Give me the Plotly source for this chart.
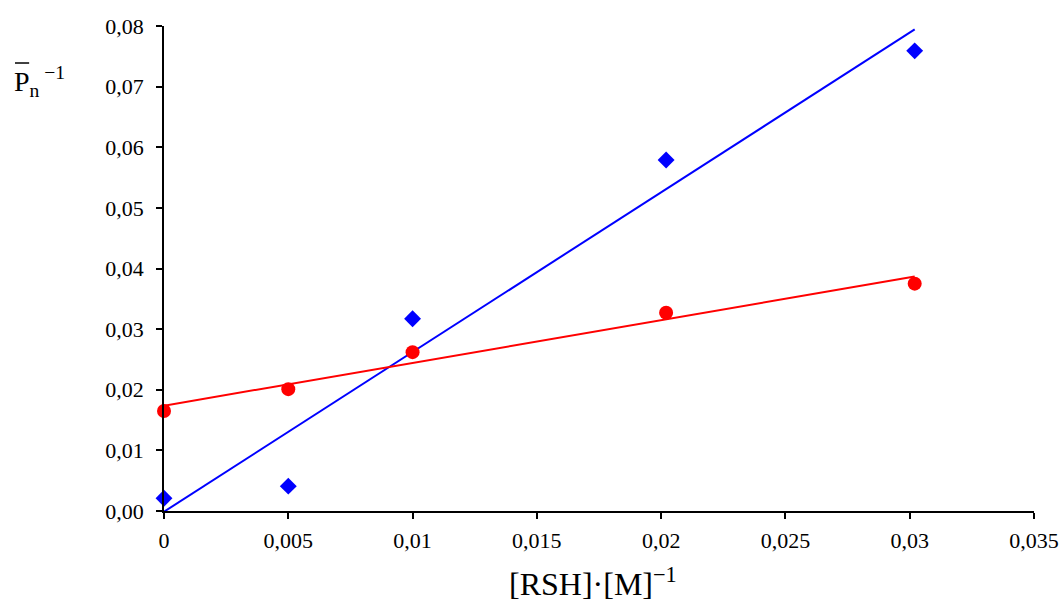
import numpy as np
import plotly.graph_objects as go

# Data
x_vals = [0.0, 0.005, 0.01, 0.0202, 0.0302]
blue_vals = [0.0021, 0.0041, 0.0317, 0.0579, 0.0759]
red_vals = [0.0165, 0.0201, 0.0262, 0.0327, 0.0375]

x_ticks = [0, 0.005, 0.01, 0.015, 0.02, 0.025, 0.03, 0.035]
x_ticktext = ["0", "0,005", "0,01", "0,015", "0,02", "0,025", "0,03", "0,035"]
y_ticks = [0, 0.01, 0.02, 0.03, 0.04, 0.05, 0.06, 0.07, 0.08]
y_ticktext = ["0,00", "0,01", "0,02", "0,03", "0,04", "0,05", "0,06", "0,07", "0,08"]

FONT = "Liberation Serif"

# Linear trend lines (least squares fit)
xb = np.array(x_vals)
fit_x = np.array([xb.min(), xb.max()])
pb = np.polyfit(xb, np.array(blue_vals), 1)
pr = np.polyfit(xb, np.array(red_vals), 1)

fig = go.Figure()
fig.add_trace(go.Scatter(x=fit_x, y=np.polyval(pb, fit_x), mode="lines",
                         line=dict(color="#0000FF", width=2), showlegend=False,
                         hoverinfo="skip", cliponaxis=False))
fig.add_trace(go.Scatter(x=fit_x, y=np.polyval(pr, fit_x), mode="lines",
                         line=dict(color="#FF0000", width=2), showlegend=False,
                         hoverinfo="skip", cliponaxis=False))
fig.add_trace(go.Scatter(x=x_vals, y=blue_vals, mode="markers",
                         marker=dict(symbol="diamond", size=13, color="#0000FF"),
                         showlegend=False, cliponaxis=False))
fig.add_trace(go.Scatter(x=x_vals, y=red_vals, mode="markers",
                         marker=dict(symbol="circle", size=14, color="#FF0000"),
                         showlegend=False, cliponaxis=False))

axis_common = dict(showline=True, linecolor="black", linewidth=1.5,
                   ticks="outside", ticklen=6, tickwidth=1.5, tickcolor="black",
                   showgrid=False, zeroline=False, automargin=False,
                   tickfont=dict(family=FONT, size=22, color="black"))

fig.update_xaxes(range=[0, 0.035], tickvals=x_ticks, ticktext=x_ticktext,
                 ticklabelstandoff=3, **axis_common)
fig.update_yaxes(range=[0, 0.08], tickvals=y_ticks, ticktext=y_ticktext,
                 ticklabelstandoff=8, **axis_common)

fig.add_annotation(text="[RSH]·[M]<sup>−1</sup>", xref="paper", yref="paper",
                   x=0.493, y=-0.1, xanchor="center", yanchor="top", showarrow=False,
                   font=dict(family=FONT, size=32, color="black"))
fig.add_annotation(text="P<sub>n</sub><sup> −1</sup>", xref="paper", yref="paper",
                   x=-0.175, y=0.93, xanchor="left", yanchor="top", showarrow=False,
                   font=dict(family=FONT, size=28, color="black"))
fig.add_shape(type="line", xref="paper", yref="paper",
              x0=-0.1713, x1=-0.155, y0=0.9237, y1=0.9237,
              line=dict(color="black", width=1.5))

fig.update_layout(width=1062, height=604, autosize=False,
                  plot_bgcolor="white", paper_bgcolor="white",
                  margin=dict(l=164, r=28, t=26, b=93), showlegend=False)

fig.write_html("out.html")
